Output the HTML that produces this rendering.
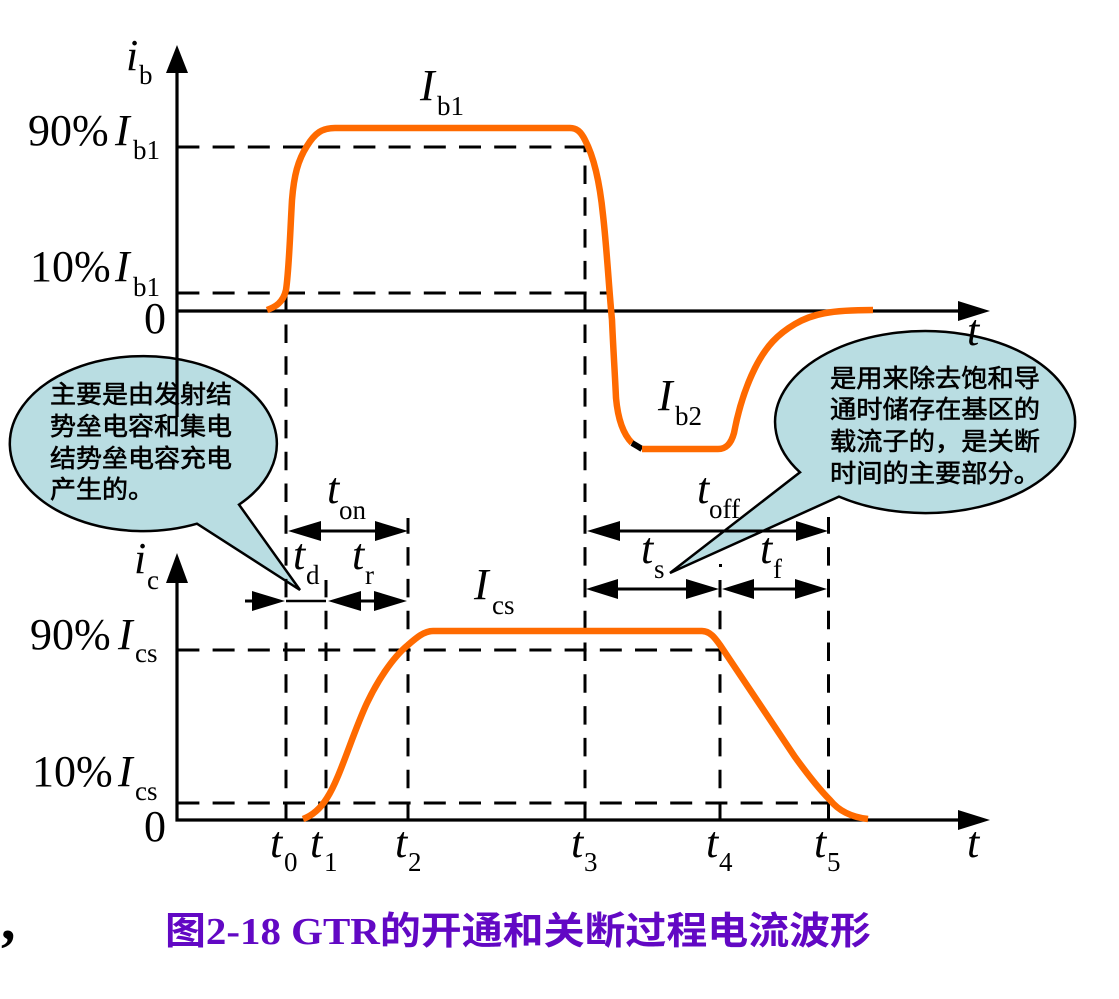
<!DOCTYPE html>
<html><head><meta charset="utf-8"><style>
html,body{margin:0;padding:0;background:#fff}
svg{display:block}
.m{font-family:"Liberation Serif",serif;font-size:44px;fill:#000}
.i{font-family:"Liberation Serif",serif;font-size:44px;font-style:italic;fill:#000}
.s{font-family:"Liberation Serif",serif;font-size:27px;fill:#000}
.c{font-family:"Liberation Sans","Noto Sans CJK SC",sans-serif;font-size:25px;fill:#000;stroke:#000;stroke-width:.6}
.d{stroke:#000;stroke-width:3;stroke-dasharray:22 13.2;fill:none}
.v{stroke:#000;stroke-width:3;stroke-dasharray:18.5 13.3;fill:none}
.a{stroke:#000;stroke-width:3;fill:none}
.o{fill:none;stroke:#ff6a00;stroke-width:6.5}
</style></head><body>
<svg width="1119" height="999" viewBox="0 0 1119 999" xmlns="http://www.w3.org/2000/svg">
<rect width="1119" height="999" fill="#fff"/>
<!-- bubbles -->
<path d="M239 504.6 A133.5 87.5 0 1 0 197 523.7 L300 590 Z" fill="#b9dde2" stroke="#000" stroke-width="2.5"/>
<path d="M800 472.3 A150 91 0 1 1 839 496.6 L670 573 Z" fill="#b9dde2" stroke="#000" stroke-width="2.5"/>
<!-- dashed -->
<path class="d" d="M177.4 147H585"/>
<path class="d" d="M177.4 293H610"/>
<path class="d" d="M177.4 650H720"/>
<path class="d" d="M177.4 803H828"/>
<path class="v" d="M286 820V296"/>
<path class="v" d="M585 820V147"/>
<path class="v" d="M326 820V580"/>
<path class="v" d="M408 820V518"/>
<path class="v" d="M720 820V580"/>
<path class="v" d="M828.5 820V517"/>
<rect x="719" y="564" width="3" height="3" fill="#000"/>
<!-- axes -->
<path d="M177 70V417" stroke="#000" stroke-width="3.2"/>
<path d="M177 580V820H965" stroke="#000" stroke-width="3.2" fill="none"/>
<path d="M177 311H965" stroke="#000" stroke-width="3.2"/>
<path d="M177 45L166 73H188Z"/>
<path d="M177 553L166 583H188Z"/>
<path d="M990 311L958 301V321Z"/>
<path d="M990 820L958 810V830Z"/>
<!-- orange curves -->
<path class="o" d="M267 310C275 307 283 303 286 290C289 270 290 235 292 200C294 175 298 160 307 146C315 133 322 128 335 128L570 128C577 128 581 132 585 140C594 157 600 185 603 215C607 250 609 290 612 320C613 345 615 375 616 398C618 420 624 435 632 443"/>
<path d="M632 443L642 449" stroke="#000" stroke-width="6" fill="none"/>
<path class="o" d="M642 449L718 449C726 449 731 444 734 433C738 412 744 390 755 368C766 346 778 334 795 324C812 314 830 310 873 310"/>
<path class="o" d="M303 819C314 815 322 806 327 798C340 778 352 735 367 703C377 682 392 658 408 645C416 638 424 631 433 631L702 631C710 631 715 638 720 645L795 757C808 775 820 790 830 800C838 810 850 817 868 819"/>
<!-- dimension arrows -->
<path class="a" d="M300 531H396M600 531H815M600 589H705M735 589H815M340 601H395M245 601H270"/>
<path d="M286 601H326" stroke="#000" stroke-width="2.5" fill="none"/>
<path d="M288 531L321 521V541ZM408 531L375 521V541Z"/>
<path d="M587 531L620 521V541ZM828 531L796 521V541Z"/>
<path d="M586 589L618 579V599ZM719 589L686 579V599Z"/>
<path d="M722 589L754 579V599ZM827 589L795 579V599Z"/>
<path d="M285 601L252 591V611Z"/>
<path d="M328 601L361 591V611ZM407 601L374 591V611Z"/>
<!-- labels -->
<text class="i" x="126" y="70">i</text><text class="s" x="139" y="84">b</text>
<text class="m" x="28" y="145">90%</text><text class="i" x="115" y="145">I</text><text class="s" x="133" y="159">b1</text>
<text class="m" x="30" y="281">10%</text><text class="i" x="115" y="281">I</text><text class="s" x="133" y="296">b1</text>
<text class="m" x="144" y="333">0</text>
<text class="i" x="420" y="100">I</text><text class="s" x="437" y="115">b1</text>
<text class="i" x="658" y="410">I</text><text class="s" x="675" y="425">b2</text>
<text class="i" x="967" y="345">t</text>
<text class="i" x="327" y="503">t</text><text class="s" x="339" y="519">on</text>
<text class="i" x="293" y="569">t</text><text class="s" x="306" y="584">d</text>
<text class="i" x="352" y="569">t</text><text class="s" x="365" y="584">r</text>
<text class="i" x="134" y="573">i</text><text class="s" x="147" y="589">c</text>
<text class="m" x="30" y="649">90%</text><text class="i" x="118" y="649">I</text><text class="s" x="135" y="662">cs</text>
<text class="m" x="32" y="786">10%</text><text class="i" x="118" y="786">I</text><text class="s" x="135" y="800">cs</text>
<text class="m" x="144" y="841">0</text>
<text class="i" x="474" y="599">I</text><text class="s" x="492" y="614">cs</text>
<text class="i" x="697" y="503">t</text><text class="s" x="709" y="518">off</text>
<text class="i" x="641" y="563">t</text><text class="s" x="654" y="578">s</text>
<text class="i" x="760" y="563">t</text><text class="s" x="773" y="578">f</text>
<text class="i" x="270" y="857">t</text><text class="s" x="284" y="871">0</text>
<text class="i" x="310" y="857">t</text><text class="s" x="324" y="871">1</text>
<text class="i" x="395" y="857">t</text><text class="s" x="408" y="871">2</text>
<text class="i" x="571" y="857">t</text><text class="s" x="584" y="871">3</text>
<text class="i" x="706" y="857">t</text><text class="s" x="719" y="871">4</text>
<text class="i" x="814" y="857">t</text><text class="s" x="827" y="871">5</text>
<text class="i" x="967" y="857">t</text>
<!-- bubble text -->
<text class="c" x="50" y="403" textLength="182" lengthAdjust="spacingAndGlyphs">主要是由发射结</text>
<text class="c" x="50" y="435" textLength="182" lengthAdjust="spacingAndGlyphs">势垒电容和集电</text>
<text class="c" x="50" y="467" textLength="182" lengthAdjust="spacingAndGlyphs">结势垒电容充电</text>
<text class="c" x="50" y="498" textLength="104" lengthAdjust="spacingAndGlyphs">产生的。</text>
<text class="c" x="830" y="387" textLength="210" lengthAdjust="spacingAndGlyphs">是用来除去饱和导</text>
<text class="c" x="830" y="418" textLength="210" lengthAdjust="spacingAndGlyphs">通时储存在基区的</text>
<text class="c" x="830" y="450" textLength="210" lengthAdjust="spacingAndGlyphs">载流子的，是关断</text>
<text class="c" x="830" y="482" textLength="210" lengthAdjust="spacingAndGlyphs">时间的主要部分。</text>
<!-- caption -->
<text x="165" y="944" font-family="'Liberation Serif','Noto Sans CJK SC',sans-serif" font-weight="700" font-size="38" fill="#6208c4" textLength="706" lengthAdjust="spacingAndGlyphs">图2-18 GTR的开通和关断过程电流波形</text>
<text x="1" y="939" font-family="'Liberation Serif',serif" font-weight="700" font-size="58" fill="#000">,</text>
</svg>
</body></html>
